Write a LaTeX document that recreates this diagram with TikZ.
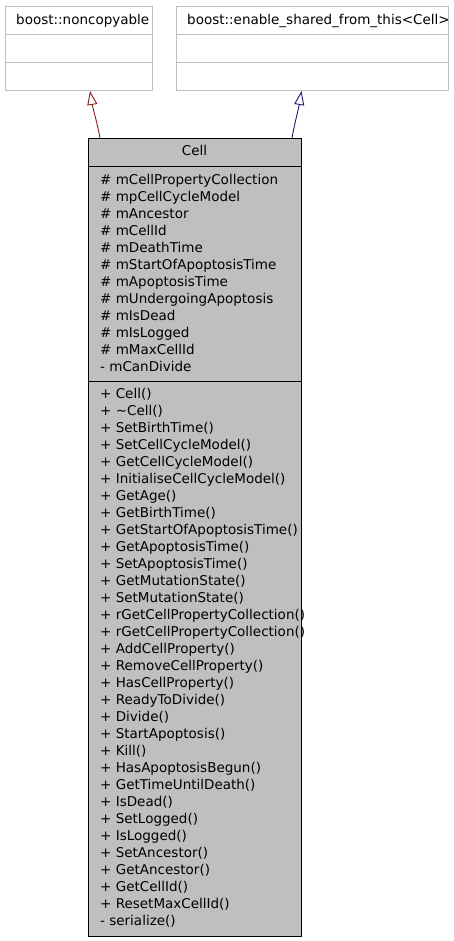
\documentclass[tikz,border=0pt]{standalone}
\usepackage{fontspec}
\setmainfont{DejaVu Sans}
\usepackage{xcolor}
\usepackage{tikz}
\usetikzlibrary{arrows.meta}
\definecolor{grey75}{HTML}{BFBFBF}
\definecolor{firebrick4}{HTML}{8B1A1A}
\definecolor{midnightblue}{HTML}{191970}

\begin{document}
\begin{tikzpicture}[
  x=1pt, y=-1pt,
  every node/.style={inner sep=0pt, font=\fontsize{13.5}{17}\selectfont},
  basebox/.style={draw=grey75, line width=1pt, anchor=north west},
  cellbox/.style={draw=black, fill=grey75, line width=1pt, anchor=north west},
  members/.style={anchor=north west, align=left},
  inherit/.style={line width=0.9pt, -{Triangle[open, length=14pt, width=10pt]}},
]
\useasboundingbox (0,0) rectangle (453,941);

% base classes
\node [basebox, minimum width=147pt, minimum height=84pt] (noncopy) at (5,6) {};
\draw [grey75] (noncopy.west |- 0,34) -- (noncopy.east |- 0,34);
\draw [grey75] (noncopy.west |- 0,62) -- (noncopy.east |- 0,62);
\node [anchor=base west] (noncopytxt) at (16,25) {boost::noncopyable};

\node [basebox, minimum width=272pt, minimum height=84pt] (sharedfrom) at (176,6) {};
\draw [grey75] (sharedfrom.west |- 0,34) -- (sharedfrom.east |- 0,34);
\draw [grey75] (sharedfrom.west |- 0,62) -- (sharedfrom.east |- 0,62);
\node [anchor=base west] (sharedfromtxt) at (187,25)
  {boost::enable\_shared\_from\_this\textless Cell\textgreater};

% the class itself
\node [cellbox, minimum width=213pt, minimum height=798pt] (cell) at (88,138) {};
\draw (cell.west |- 0,166) -- (cell.east |- 0,166);
\draw (cell.west |- 0,381) -- (cell.east |- 0,381);
\node [anchor=base] (celltxt) at (194.5,156) {Cell};

\node [members] (cellattr) at (100,173.7) {%
  \# mCellPropertyCollection\\
  \# mpCellCycleModel\\
  \# mAncestor\\
  \# mCellId\\
  \# mDeathTime\\
  \# mStartOfApoptosisTime\\
  \# mApoptosisTime\\
  \# mUndergoingApoptosis\\
  \# mIsDead\\
  \# mIsLogged\\
  \# mMaxCellId\\
  - mCanDivide};

\node [members] (cellops) at (100,387.7) {%
  + Cell()\\
  + \textasciitilde Cell()\\
  + SetBirthTime()\\
  + SetCellCycleModel()\\
  + GetCellCycleModel()\\
  + InitialiseCellCycleModel()\\
  + GetAge()\\
  + GetBirthTime()\\
  + GetStartOfApoptosisTime()\\
  + GetApoptosisTime()\\
  + SetApoptosisTime()\\
  + GetMutationState()\\
  + SetMutationState()\\
  + rGetCellPropertyCollection()\\
  + rGetCellPropertyCollection()\\
  + AddCellProperty()\\
  + RemoveCellProperty()\\
  + HasCellProperty()\\
  + ReadyToDivide()\\
  + Divide()\\
  + StartApoptosis()\\
  + Kill()\\
  + HasApoptosisBegun()\\
  + GetTimeUntilDeath()\\
  + IsDead()\\
  + SetLogged()\\
  + IsLogged()\\
  + SetAncestor()\\
  + GetAncestor()\\
  + GetCellId()\\
  + ResetMaxCellId()\\
  - serialize()};

% inheritance
\draw [inherit, firebrick4] ([xshift=12pt]cell.north west)
  .. controls +(-2,-12) and +(3,18) .. ([xshift=11pt]noncopy.south);
\draw [inherit, midnightblue] ([xshift=-10pt]cell.north east)
  .. controls +(2,-12) and +(-3,18) .. ([xshift=-11pt]sharedfrom.south);

\end{tikzpicture}
\end{document}
